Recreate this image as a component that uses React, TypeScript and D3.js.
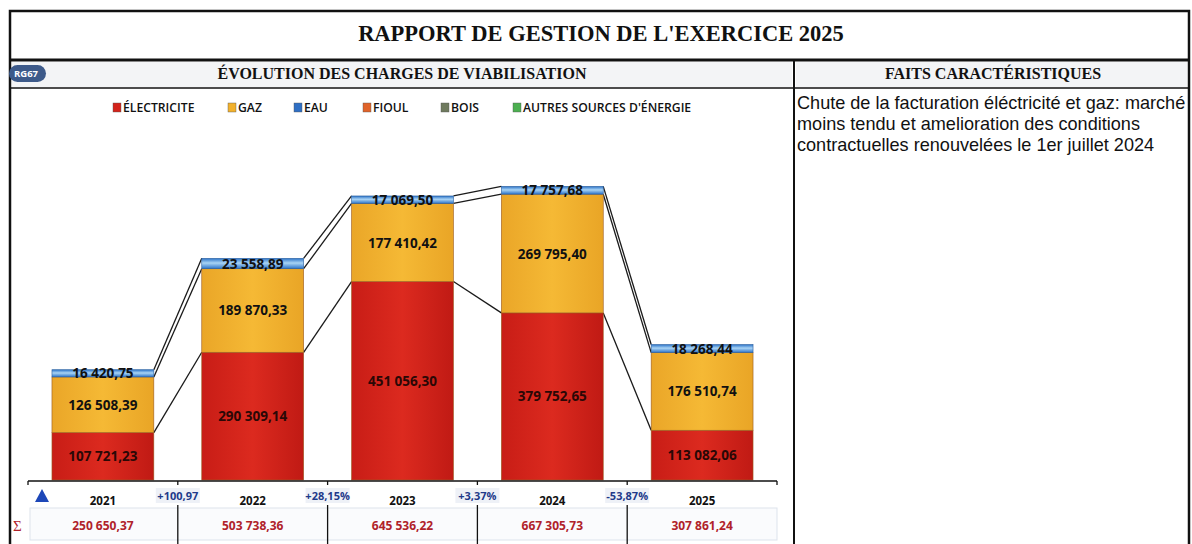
import React, { useEffect, useRef } from 'react';
import * as d3 from 'd3';

const years = ['2021', '2022', '2023', '2024', '2025'];
const electricite = [107721.23, 290309.14, 451056.3, 379752.65, 113082.06];
const gaz = [126508.39, 189870.33, 177410.42, 269795.4, 176510.74];
const eau = [16420.75, 23558.89, 17069.5, 17757.68, 18268.44];
const totals = [250650.37, 503738.36, 645536.22, 667305.73, 307861.24];
const variations = ['+100,97', '+28,15%', '+3,37%', '-53,87%'];

const legendItems = [
  { label: 'ÉLECTRICITE', color: '#d3231b', x: 113 },
  { label: 'GAZ', color: '#f2b12c', x: 228 },
  { label: 'EAU', color: '#2f6fc4', x: 294 },
  { label: 'FIOUL', color: '#e0632a', x: 363 },
  { label: 'BOIS', color: '#6f7a5e', x: 441 },
  { label: "AUTRES SOURCES D'ÉNERGIE", color: '#4caf50', x: 513 },
];

const faits = [
  'Chute de la facturation éléctricité et gaz: marché',
  'moins tendu et amelioration des conditions',
  'contractuelles renouvelées le 1er juillet 2024',
];

const W = 1192;
const H = 544;
const sans = 'Open Sans, Lato, sans-serif';
const serif = 'Liberation Serif, DejaVu Serif, serif';

const fmt = (v: number) => {
  const s = v.toFixed(2).split('.');
  const int = s[0].replace(/\B(?=(\d{3})+(?!\d))/g, ' ');
  return `${int},${s[1]}`;
};

export default function App() {
  const ref = useRef<SVGSVGElement>(null);

  useEffect(() => {
    const svg = d3.select(ref.current);
    svg.selectAll('*').remove();

    const defs = svg.append('defs');
    const grad = (id: string, stops: [number, string][]) => {
      const g = defs.append('linearGradient').attr('id', id).attr('x1', 0).attr('x2', 1).attr('y1', 0).attr('y2', 0);
      stops.forEach(([o, c]) => g.append('stop').attr('offset', o).attr('stop-color', c));
    };
    grad('gRed', [[0, '#c81d16'], [0.5, '#dc2a1f'], [1, '#c01a14']]);
    grad('gGaz', [[0, '#eaa628'], [0.5, '#f5b935'], [1, '#e9a526']]);
    const gv = defs.append('linearGradient').attr('id', 'gEau').attr('x1', 0).attr('x2', 0).attr('y1', 0).attr('y2', 1);
    gv.append('stop').attr('offset', 0).attr('stop-color', '#2a72c8');
    gv.append('stop').attr('offset', 0.45).attr('stop-color', '#a9d4f5');
    gv.append('stop').attr('offset', 1).attr('stop-color', '#2a72c8');

    svg.append('rect').attr('width', W).attr('height', H).attr('fill', '#fff');

    // cadre
    const frame = svg.append('g').attr('stroke', '#111').attr('fill', 'none');
    frame.append('rect').attr('x', 10).attr('y', 11).attr('width', 1179).attr('height', 540).attr('stroke-width', 2.5);
    frame.append('line').attr('x1', 10).attr('x2', 1189).attr('y1', 60).attr('y2', 60).attr('stroke-width', 3);
    frame.append('line').attr('x1', 10).attr('x2', 1189).attr('y1', 88).attr('y2', 88).attr('stroke-width', 1.5);
    frame.append('line').attr('x1', 794).attr('x2', 794).attr('y1', 60).attr('y2', H).attr('stroke-width', 2);

    svg.append('rect').attr('x', 12).attr('y', 62).attr('width', 780).attr('height', 25).attr('fill', '#f3f4f6');
    svg.append('rect').attr('x', 796).attr('y', 62).attr('width', 391).attr('height', 25).attr('fill', '#f3f4f6');

    svg.append('text').attr('x', 601).attr('y', 41).attr('text-anchor', 'middle')
      .attr('font-family', serif).attr('font-weight', 'bold').attr('font-size', 22.5).attr('fill', '#111')
      .text("RAPPORT DE GESTION DE L'EXERCICE 2025");

    svg.append('rect').attr('x', 9).attr('y', 65).attr('width', 37).attr('height', 17).attr('rx', 8.5).attr('fill', '#3d5a8a');
    svg.append('text').attr('x', 26).attr('y', 77).attr('text-anchor', 'middle').attr('font-family', sans)
      .attr('font-weight', 'bold').attr('font-size', 9.5).attr('fill', '#fff').text('RG67');

    svg.append('text').attr('x', 402).attr('y', 79).attr('text-anchor', 'middle')
      .attr('font-family', serif).attr('font-weight', 'bold').attr('font-size', 16).attr('fill', '#111')
      .text('ÉVOLUTION DES CHARGES DE VIABILISATION');
    svg.append('text').attr('x', 993).attr('y', 79).attr('text-anchor', 'middle')
      .attr('font-family', serif).attr('font-weight', 'bold').attr('font-size', 16).attr('fill', '#111')
      .text('FAITS CARACTÉRISTIQUES');

    faits.forEach((t, i) => {
      svg.append('text').attr('x', 797).attr('y', 109 + i * 21)
        .attr('font-family', 'Liberation Sans, Arial, sans-serif').attr('font-size', 18.1).attr('fill', '#111').text(t);
    });

    // légende
    const lg = svg.append('g');
    legendItems.forEach((d) => {
      lg.append('rect').attr('x', d.x).attr('y', 103).attr('width', 8).attr('height', 9).attr('fill', d.color).attr('stroke', '#555').attr('stroke-width', 0.4);
      lg.append('text').attr('x', d.x + 10).attr('y', 112).attr('font-family', sans).attr('font-size', 12.2)
        .attr('font-weight', 600).attr('fill', '#111').text(d.label);
    });

    // graphique
    const x = d3.scaleBand().domain(years).range([28, 777]).paddingInner(0.32).paddingOuter(0.16);
    const y = d3.scaleLinear().domain([0, 700000]).range([480, 172]);
    const bw = x.bandwidth();

    const stackData = years.map((yr, i) => ({ year: yr, electricite: electricite[i], gaz: gaz[i], eau: eau[i] }));
    const keys = ['electricite', 'gaz', 'eau'];
    const fills: Record<string, string> = { electricite: 'url(#gRed)', gaz: 'url(#gGaz)', eau: 'url(#gEau)' };
    const series = d3.stack<any>().keys(keys)(stackData);

    // lignes de série
    const lines = svg.append('g').attr('stroke', '#1a1a1a').attr('stroke-width', 1.3);
    series.forEach((s) => {
      for (let i = 0; i < s.length - 1; i++) {
        lines.append('line')
          .attr('x1', x(years[i])! + bw).attr('y1', y(s[i][1]))
          .attr('x2', x(years[i + 1])!).attr('y2', y(s[i + 1][1]));
      }
    });

    series.forEach((s) => {
      const g = svg.append('g');
      g.selectAll('rect').data(s).enter().append('rect')
        .attr('x', (d: any) => x(d.data.year)!)
        .attr('y', (d) => y(d[1]))
        .attr('width', bw)
        .attr('height', (d) => y(d[0]) - y(d[1]))
        .attr('fill', fills[s.key])
        .attr('stroke', s.key === 'eau' ? '#2a5f9e' : '#9a5a20')
        .attr('stroke-width', 0.6);
      g.selectAll('text').data(s).enter().append('text')
        .attr('x', (d: any) => x(d.data.year)! + bw / 2)
        .attr('y', (d) => (y(d[0]) + y(d[1])) / 2 + 5)
        .attr('text-anchor', 'middle')
        .attr('font-family', sans).attr('font-weight', 'bold').attr('font-size', 13.5)
        .attr('fill', s.key === 'electricite' ? '#2a0806' : '#111')
        .text((d) => fmt(d[1] - d[0]));
    });

    // axe
    const ax = svg.append('g').attr('stroke', '#111').attr('fill', 'none').attr('stroke-width', 1.3);
    ax.append('line').attr('x1', 28).attr('x2', 777).attr('y1', 481).attr('y2', 481);
    const bounds = [28, ...years.slice(1).map((yr) => x(yr)! - (x.step() - bw) / 2), 777];
    bounds.forEach((b) => ax.append('line').attr('x1', b).attr('x2', b).attr('y1', 481).attr('y2', 485));

    // ligne des sommes
    svg.append('rect').attr('x', 30).attr('y', 508).attr('width', 747).attr('height', 32)
      .attr('fill', '#fafbfd').attr('stroke', '#dde3ec').attr('stroke-width', 1);
    bounds.slice(1, -1).forEach((b) => {
      svg.append('line').attr('x1', b).attr('x2', b).attr('y1', 505).attr('y2', H).attr('stroke', '#111').attr('stroke-width', 1.3);
    });

    svg.append('text').attr('x', 13).attr('y', 531).attr('font-family', serif).attr('font-size', 15).attr('fill', '#b0222a').text('Σ');
    svg.append('path').attr('d', 'M42,489 L49,502 L35,502 Z').attr('fill', '#1d47b8');

    years.forEach((yr, i) => {
      const cx = x(yr)! + bw / 2;
      svg.append('text').attr('x', cx).attr('y', 505).attr('text-anchor', 'middle')
        .attr('font-family', sans).attr('font-weight', 'bold').attr('font-size', 11.5).attr('fill', '#111').text(yr);
      svg.append('text').attr('x', cx).attr('y', 530).attr('text-anchor', 'middle')
        .attr('font-family', sans).attr('font-weight', 'bold').attr('font-size', 12).attr('fill', '#b0222a').text(fmt(totals[i]));
    });

    variations.forEach((v, i) => {
      const b = bounds[i + 1];
      svg.append('rect').attr('x', b - 22).attr('y', 488).attr('width', 44).attr('height', 15).attr('fill', '#eef1f7');
      svg.append('text').attr('x', b).attr('y', 500).attr('text-anchor', 'middle')
        .attr('font-family', sans).attr('font-weight', 'bold').attr('font-size', 11).attr('fill', '#1f3a8a').text(v);
    });
  }, []);

  return <svg ref={ref} width={W} height={H} style={{ position: 'absolute', left: 0, top: 0 }} />;
}
